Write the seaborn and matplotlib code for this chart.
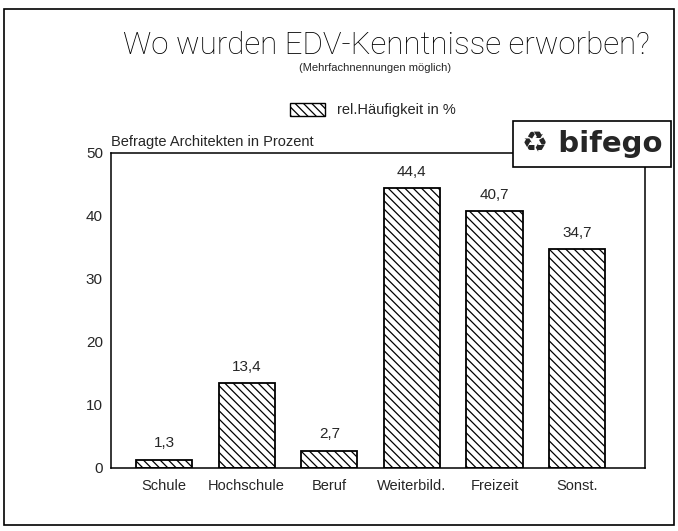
# Bar chart: where EDV knowledge was acquired (multiple answers possible)
import matplotlib
matplotlib.use("Agg")
import matplotlib.pyplot as plt
import matplotlib.patches as mpatches
import pandas as pd
import seaborn as sns

# Data
categories = ["Schule", "Hochschule", "Beruf", "Weiterbild.", "Freizeit", "Sonst."]
values = [1.3, 13.4, 2.7, 44.4, 40.7, 34.7]
value_labels = ["1,3", "13,4", "2,7", "44,4", "40,7", "34,7"]
y_ticks = [0, 10, 20, 30, 40, 50]

df = pd.DataFrame({"ort": categories, "prozent": values})

sns.set_style("white")
plt.rcParams["font.family"] = ["Liberation Sans", "DejaVu Sans"]
plt.rcParams["hatch.linewidth"] = 0.9

fig = plt.figure(figsize=(6.78, 5.31), dpi=100)
ax = fig.add_axes([0.164, 0.119, 0.787, 0.593])

sns.barplot(data=df, x="ort", y="prozent", color="white", edgecolor="black",
            linewidth=1.3, width=0.68, ax=ax)
for bar in ax.patches:
    bar.set_hatch("\\\\\\\\")

# value labels above bars
for i, (v, lab) in enumerate(zip(values, value_labels)):
    ax.text(i, v + 1.5, lab, ha="center", va="bottom", fontsize=11)

ax.set_xlim(-0.64, 5.82)
ax.set_ylim(0, 50)
ax.set_yticks(y_ticks)
ax.set_xlabel("")
ax.set_ylabel("")
ax.tick_params(axis="y", direction="in", length=6, width=1, labelsize=11, pad=6)
ax.tick_params(axis="x", length=0, labelsize=10.5, pad=8)
for s in ax.spines.values():
    s.set_color("black")
    s.set_linewidth(1.1)

ax.text(0.0, 1.012, "Befragte Architekten in Prozent", transform=ax.transAxes,
        ha="left", va="bottom", fontsize=10.5)

# titles
fig.text(0.57, 0.915, "Wo wurden EDV-Kenntnisse erworben?", ha="center", va="center",
         fontsize=22.5, family=["Roboto", "DejaVu Sans"], fontweight="light", color="black")
fig.text(0.553, 0.872, "(Mehrfachnennungen möglich)", ha="center", va="center", fontsize=8)

# legend
handle = mpatches.Patch(facecolor="white", edgecolor="black", hatch="\\\\\\\\",
                        label="rel.Häufigkeit in %")
fig.legend(handles=[handle], loc="center", bbox_to_anchor=(0.55, 0.793),
           frameon=False, fontsize=10.5, handlelength=2.4, handleheight=1.0,
           handletextpad=0.8)

# logo box
fig.text(0.873, 0.729, "♻ bifego", ha="center", va="center", fontsize=21,
         fontweight="bold", family=["DejaVu Sans"],
         bbox=dict(boxstyle="square,pad=0.3", facecolor="white",
                   edgecolor="black", linewidth=1.2))

# outer frame
fig.patches.append(mpatches.Rectangle((0.006, 0.011), 0.988, 0.972, fill=False,
                                      edgecolor="black", linewidth=1.2,
                                      transform=fig.transFigure, figure=fig))

fig.savefig("out.png", dpi=100)
